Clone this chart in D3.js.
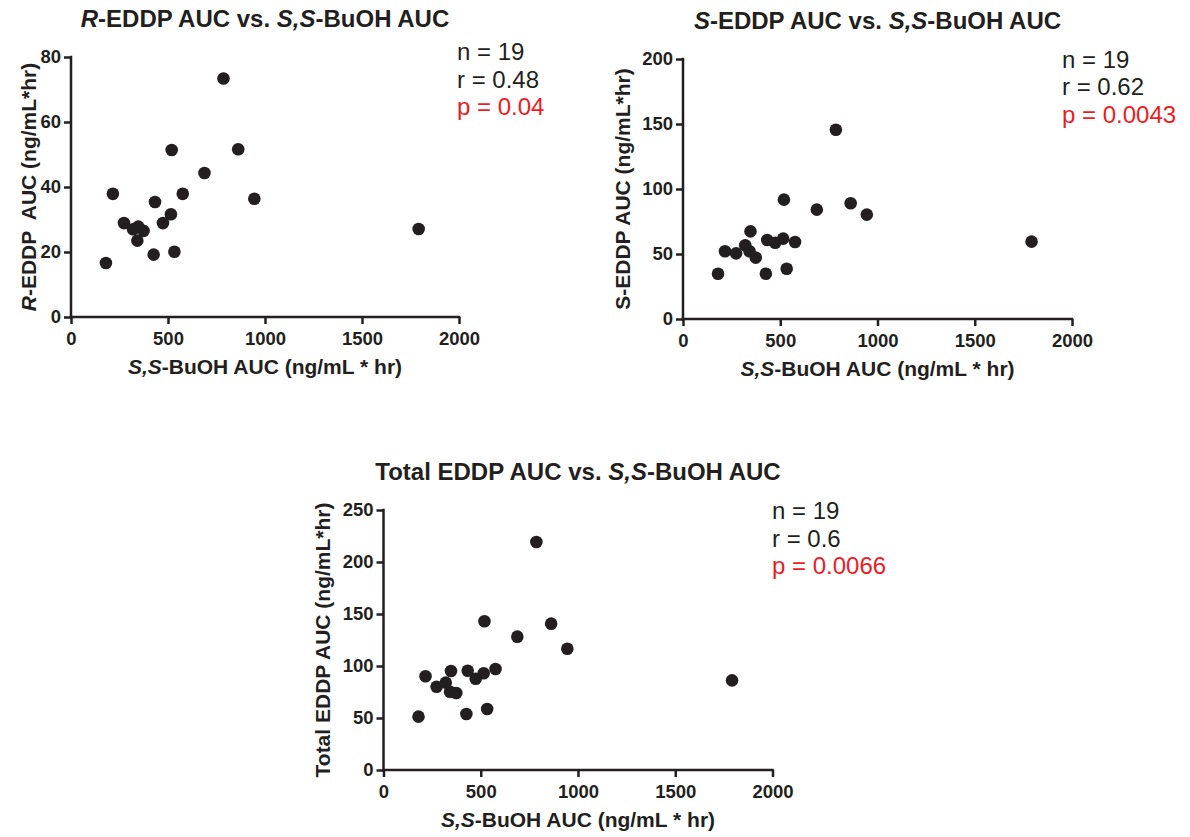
<!DOCTYPE html>
<html>
<head>
<meta charset="utf-8">
<script src="https://cdn.jsdelivr.net/npm/d3@7"></script>
<style>
  html, body { margin: 0; padding: 0; background: #fff; }
  svg { display: block; }
  text { font-family: "Liberation Sans", Arial, Helvetica, sans-serif; }
</style>
</head>
<body>
<svg id="chart" width="1190" height="837"></svg>
<script>
// ---- Data ----
const buohAUC = [786, 519, 862, 688, 216, 576, 945, 433, 515, 273, 474, 320, 347, 374, 342, 426, 533, 180, 1792];
const rEddpAUC = [73.4, 51.4, 51.6, 44.3, 37.9, 37.9, 36.4, 35.4, 31.6, 28.9, 28.9, 27.0, 27.8, 26.5, 23.5, 19.2, 20.1, 16.6, 27.1];
const sEddpAUC = [145.6, 91.8, 89.0, 84.1, 52.1, 59.2, 80.3, 60.8, 61.8, 50.5, 58.7, 56.7, 67.4, 47.2, 52.1, 34.8, 38.7, 34.8, 59.5];
const totalEddpAUC = [219.2, 143, 140.7, 128.2, 90.1, 97.1, 116.6, 95.5, 93, 80.1, 87.8, 84, 95.2, 74, 75.3, 53.8, 58.6, 51.3, 86.2];

const xTicks = [0, 500, 1000, 1500, 2000];
const yTicksR = [0, 20, 40, 60, 80];
const yTicksS = [0, 50, 100, 150, 200];
const yTicksT = [0, 50, 100, 150, 200, 250];

const statsR = ["n = 19", "r = 0.48", "p = 0.04"];
const statsS = ["n = 19", "r = 0.62", "p = 0.0043"];
const statsT = ["n = 19", "r = 0.6", "p = 0.0066"];

const titleR = [["R", true], ["-EDDP AUC vs. ", false], ["S,S", true], ["-BuOH AUC", false]];
const titleS = [["S", true], ["-EDDP AUC vs. ", false], ["S,S", true], ["-BuOH AUC", false]];
const titleT = [["Total EDDP AUC vs. ", false], ["S,S", true], ["-BuOH AUC", false]];
const xLabel = [["S,S", true], ["-BuOH AUC (ng/mL * hr)", false]];
const yLabelR = [["R", true], ["-EDDP  AUC (ng/mL*hr)", false]];
const yLabelS = [["S-EDDP AUC (ng/mL*hr)", false]];
const yLabelT = [["Total EDDP AUC (ng/mL*hr)", false]];

// ---- Drawing ----
const INK = "#231f20";
const RED = "#ed1c24";
const svg = d3.select("#chart");

function addRich(sel, parts) {
  parts.forEach(([t, it]) => {
    sel.append("tspan").text(t).attr("font-style", it ? "italic" : "normal");
  });
}

function panel(cfg) {
  const g = svg.append("g");
  const x = d3.scaleLinear().domain([0, 2000]).range([cfg.x0, cfg.x1]);
  const y = d3.scaleLinear().domain([0, cfg.ymax]).range([cfg.y0, cfg.y1]);

  const xAxis = g.append("g").attr("transform", `translate(0,${cfg.y0})`)
    .call(d3.axisBottom(x).tickValues(xTicks).tickFormat(d3.format("d")).tickSizeOuter(0).tickSize(7).tickPadding(8));
  const yAxis = g.append("g").attr("transform", `translate(${cfg.x0},0)`)
    .call(d3.axisLeft(y).tickValues(cfg.yTicks).tickFormat(d3.format("d")).tickSizeOuter(0).tickSize(7).tickPadding(3));

  [xAxis, yAxis].forEach(a => {
    a.select(".domain").attr("stroke", INK).attr("stroke-width", 2.5);
    a.selectAll(".tick line").attr("stroke", INK).attr("stroke-width", 2.5);
    a.selectAll(".tick text").attr("fill", INK).attr("font-size", 18.5).attr("font-weight", "bold")
      .attr("font-family", '"Liberation Sans", Arial, sans-serif');
  });
  xAxis.select(".domain").attr("d", `M${cfg.x0 - 1.25},0H${cfg.x1 + 1.25}`);
  yAxis.select(".domain").attr("d", `M0,${cfg.y0 + 1.25}V${cfg.y1 - 1.25}`);

  // points
  g.append("g").selectAll("circle").data(cfg.xs.map((v, i) => [v, cfg.ys[i]]))
    .join("circle")
    .attr("cx", d => x(d[0])).attr("cy", d => y(d[1])).attr("r", 6.3).attr("fill", INK);

  // title
  const cx = (cfg.x0 + cfg.x1) / 2;
  const t = g.append("text").attr("x", cx).attr("y", cfg.y1 - 30).attr("text-anchor", "middle")
    .attr("font-size", 24).attr("font-weight", "bold").attr("fill", INK);
  addRich(t, cfg.title);

  // x label
  const xl = g.append("text").attr("x", cx).attr("y", cfg.y0 + 57).attr("text-anchor", "middle")
    .attr("font-size", 21).attr("font-weight", "bold").attr("fill", INK);
  addRich(xl, xLabel);

  // y label
  const cy = (cfg.y0 + cfg.y1) / 2;
  const yl = g.append("text").attr("transform", `translate(${cfg.ylx},${cy}) rotate(-90)`)
    .attr("text-anchor", "middle").attr("font-size", 21).attr("font-weight", "bold").attr("fill", INK)
    .style("white-space", "pre");
  addRich(yl, cfg.ylabel);

  // stats
  cfg.stats.forEach((s, i) => {
    g.append("text").attr("x", cfg.sx).attr("y", cfg.sy + i * 27.5)
      .attr("font-size", 24).attr("fill", i === 2 ? RED : INK).text(s);
  });
}

panel({ x0: 71, x1: 459, y0: 317, y1: 57, ymax: 80, yTicks: yTicksR, xs: buohAUC, ys: rEddpAUC,
  title: titleR, ylabel: yLabelR, ylx: 36, stats: statsR, sx: 457, sy: 60 });
panel({ x0: 683, x1: 1072, y0: 319, y1: 59, ymax: 200, yTicks: yTicksS, xs: buohAUC, ys: sEddpAUC,
  title: titleS, ylabel: yLabelS, ylx: 630, stats: statsS, sx: 1062, sy: 67.5 });
panel({ x0: 383.5, x1: 772.5, y0: 770, y1: 510, ymax: 250, yTicks: yTicksT, xs: buohAUC, ys: totalEddpAUC,
  title: titleT, ylabel: yLabelT, ylx: 330, stats: statsT, sx: 772, sy: 519 });
</script>
</body>
</html>
